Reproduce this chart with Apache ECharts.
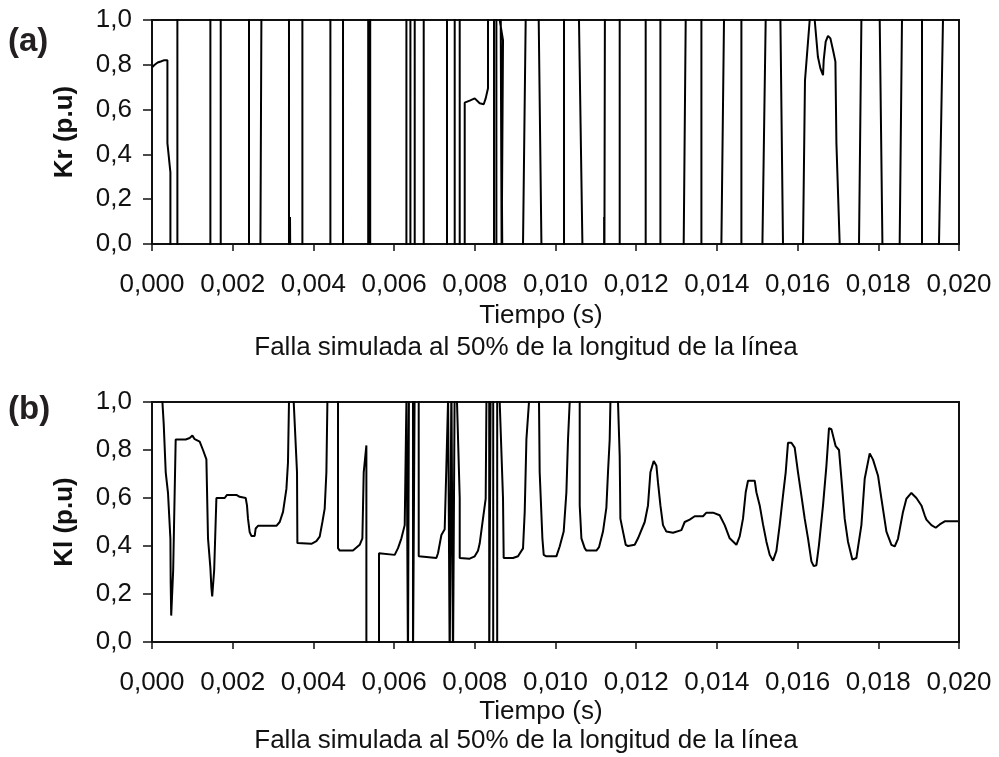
<!DOCTYPE html>
<html>
<head>
  <meta charset="UTF-8">
  <title>Kr / Kl</title>
  <script src="https://cdn.jsdelivr.net/npm/echarts@6/dist/echarts.min.js"></script>
  <style>
    html, body { margin: 0; padding: 0; background: #fff; }
  </style>
</head>
<body>
  <div id="main" style="width: 999px; height: 757px;"></div>

  <script>
    // (a) Kr, tiempo (s) / valor (p.u). Valores fuera de [0,1] se recortan en la rejilla
    const krData = [
      [0.000010, 0.79], [0.000067, 0.80], [0.000141, 0.81], [0.000216, 0.815], [0.000290, 0.82], [0.000382, 0.82],
      [0.000382, 0.45], [0.000456, 0.32], [0.000456, -0.1],
      [0.000629, -0.1], [0.000629, 1.1], [0.001447, 1.1], [0.001447, -0.1],
      [0.001703, -0.1], [0.001703, 1.1], [0.002404, 1.1], [0.002404, -0.1],
      [0.002687, -0.1], [0.002687, 0], [0.002711, 1], [0.002711, 1.1],
      [0.003395, 1.1], [0.003395, -0.1],
      [0.003420, -0.1], [0.003420, 0.12], [0.003428, 0.12], [0.003428, -0.1],
      [0.003727, -0.1], [0.003727, 1.1], [0.004421, 1.1], [0.004421, -0.1],
      [0.004734, -0.1], [0.004734, 1.1], [0.005358, 1.1], [0.005358, -0.1],
      [0.005408, -0.1], [0.005408, 1.1], [0.006305, 1.1], [0.006305, -0.1],
      [0.006404, -0.1], [0.006404, 1.1], [0.006511, 1.1], [0.006511, -0.1],
      [0.006734, -0.1], [0.006734, 1.1], [0.007311, 1.1], [0.007311, -0.1],
      [0.007502, -0.1], [0.007502, 1.1], [0.007626, 1.1], [0.007626, -0.1],
      [0.007750, -0.1], [0.007750, 0.631], [0.007874, 0.64], [0.007998, 0.65], [0.008121, 0.628],
      [0.008221, 0.624], [0.008270, 0.65], [0.008327, 0.695], [0.008327, 0.747], [0.008327, 1.1],
      [0.008476, 1.1], [0.008476, -0.1], [0.008535, -0.1], [0.008535, 1.1],
      [0.008617, 1.1], [0.008617, 1.0], [0.008699, 0.91], [0.008667, 0], [0.008667, -0.1],
      [0.008640, -0.1], [0.008640, 1.1], [0.008684, 1.1], [0.008684, -0.1],
      [0.009195, -0.1], [0.009195, 0], [0.009261, 1], [0.009261, 1.1],
      [0.009584, 1.1], [0.009584, 1], [0.009651, 0], [0.009651, -0.1],
      [0.010211, -0.1], [0.010211, 1.1],
      [0.010582, 1.1], [0.010582, 1], [0.010667, 0], [0.010667, -0.1],
      [0.011205, -0.1], [0.011205, 0.12], [0.011212, 0.12], [0.011212, -0.1],
      [0.011225, -0.1], [0.011225, 1.1], [0.011591, 1.1], [0.011591, -0.1],
      [0.012235, -0.1], [0.012235, 1.1], [0.012600, 1.1], [0.012600, -0.1],
      [0.013177, -0.1], [0.013177, 0], [0.013227, 1], [0.013227, 1.1],
      [0.013616, 1.1], [0.013616, -0.1],
      [0.014111, -0.1], [0.014111, 0], [0.014176, 1], [0.014176, 1.1],
      [0.014607, 1.1], [0.014607, -0.1],
      [0.015128, -0.1], [0.015128, 0], [0.015209, 1], [0.015209, 1.1],
      [0.015574, 1.1], [0.015574, 1], [0.015638, 0], [0.015638, -0.1],
      [0.016134, -0.1], [0.016134, 0], [0.016183, 0.73], [0.016300, 1.0], [0.016300, 1.1],
      [0.016424, 1.1], [0.016424, 1.0], [0.016503, 0.836], [0.016565, 0.784], [0.016630, 0.754],
      [0.016647, 0.821], [0.016696, 0.903], [0.016753, 0.929], [0.016813, 0.918], [0.016877, 0.866],
      [0.016937, 0.814], [0.016962, 0.45], [0.017043, 0], [0.017043, -0.1],
      [0.017522, -0.1], [0.017522, 0], [0.017581, 1], [0.017581, 1.1],
      [0.018035, 1.1], [0.018035, 1], [0.018102, 0], [0.018102, -0.1],
      [0.018530, -0.1], [0.018530, 0], [0.018587, 1], [0.018587, 1.1],
      [0.019083, 1.1], [0.019083, -0.1],
      [0.019504, -0.1], [0.019504, 0], [0.019603, 1], [0.019603, 1.1],
      [0.019700, 1.1]
    ];

    // (b) Kl
    const klData = [
      [0.000240, 1.1], [0.000258, 1.0], [0.000290, 0.91], [0.000340, 0.707], [0.000397, 0.62], [0.000456, 0.43],
      [0.000463, 0.25], [0.000476, 0.11], [0.000501, 0.11], [0.000525, 0.30], [0.000587, 0.844], [0.000835, 0.844],
      [0.000934, 0.85], [0.001001, 0.86], [0.001058, 0.845], [0.001182, 0.835], [0.001264, 0.80], [0.001348, 0.761],
      [0.001388, 0.432], [0.001447, 0.309], [0.001472, 0.226], [0.001492, 0.19], [0.001517, 0.19], [0.001541, 0.30],
      [0.001596, 0.60], [0.001802, 0.60], [0.001859, 0.613], [0.002092, 0.613], [0.002173, 0.605], [0.002322, 0.60],
      [0.002354, 0.569], [0.002379, 0.514], [0.002421, 0.458], [0.002463, 0.442], [0.002545, 0.442], [0.002570, 0.473],
      [0.002627, 0.484], [0.003083, 0.484], [0.003165, 0.50], [0.003247, 0.542], [0.003331, 0.638], [0.003370, 0.748],
      [0.003395, 1.0], [0.003395, 1.1],
      [0.003512, 1.1], [0.003512, 1.0], [0.003594, 0.707], [0.003603, 0.412], [0.003618, 0.409], [0.003950, 0.409],
      [0.004074, 0.42], [0.004156, 0.439], [0.004223, 0.50], [0.004280, 0.556], [0.004322, 0.707], [0.004347, 1.0], [0.004347, 1.1],
      [0.004610, 1.1], [0.004610, 0.391], [0.004652, 0.381], [0.004981, 0.381], [0.005147, 0.405], [0.005214, 0.432],
      [0.005247, 0.707], [0.005313, 0.819], [0.005313, -0.1],
      [0.005626, -0.1], [0.005626, 0.37], [0.005650, 0.363], [0.006015, 0.363], [0.006097, 0.391], [0.006181, 0.432],
      [0.006263, 0.487], [0.006305, 1.0], [0.006305, 1.1],
      [0.006344, 1.1], [0.006344, -0.1], [0.006369, -0.1], [0.006369, 1.1], [0.006468, 1.1], [0.006468, -0.1],
      [0.006511, -0.1], [0.006511, 1.1],
      [0.006610, 1.1], [0.006610, 0.357], [0.006634, 0.35], [0.007048, 0.35], [0.007088, 0.37], [0.007172, 0.446],
      [0.007254, 0.47], [0.007296, 0.734], [0.007336, 1.0], [0.007336, 1.1],
      [0.007378, 1.1], [0.007378, -0.1], [0.007420, -0.1], [0.007420, 1.1], [0.007460, 1.1], [0.007460, -0.1],
      [0.007502, -0.1], [0.007502, 1.1],
      [0.007559, 1.1], [0.007559, 1.0], [0.007626, 0.6], [0.007626, 0.35], [0.007874, 0.347], [0.007916, 0.339],
      [0.007998, 0.357], [0.008079, 0.38], [0.008121, 0.41], [0.008203, 0.514], [0.008270, 0.597], [0.008288, 1.0], [0.008288, 1.1],
      [0.008357, 1.1], [0.008357, -0.1], [0.008394, -0.1], [0.008394, 1.1], [0.008456, 1.1], [0.008456, -0.1],
      [0.008555, -0.1], [0.008555, 1.1],
      [0.008617, 1.1], [0.008617, 1.0], [0.008699, 0.6], [0.008716, 0.35], [0.008947, 0.35], [0.009071, 0.357],
      [0.009195, 0.39], [0.009237, 0.542], [0.009279, 0.844], [0.009343, 1.0], [0.009343, 1.1],
      [0.009591, 1.1], [0.009591, 1.0], [0.009608, 0.707], [0.009675, 0.432], [0.009708, 0.363], [0.009774, 0.357],
      [0.010022, 0.357], [0.010104, 0.398], [0.010203, 0.46], [0.010270, 0.624], [0.010310, 0.844], [0.010352, 1.0], [0.010352, 1.1],
      [0.010600, 1.1], [0.010600, 0.569], [0.010642, 0.432], [0.010724, 0.391], [0.010766, 0.381], [0.011014, 0.381],
      [0.011078, 0.395], [0.011177, 0.46], [0.011261, 0.56], [0.011301, 0.707], [0.011343, 0.844], [0.011361, 1.0], [0.011361, 1.1],
      [0.011549, 1.1], [0.011549, 1.0], [0.011591, 0.775], [0.011608, 0.514], [0.011673, 0.46], [0.011740, 0.405],
      [0.011797, 0.40], [0.011963, 0.405], [0.012045, 0.432], [0.012211, 0.50], [0.012292, 0.569], [0.012352, 0.707],
      [0.012434, 0.754], [0.012501, 0.734], [0.012540, 0.665], [0.012600, 0.569], [0.012664, 0.487], [0.012748, 0.46],
      [0.012912, 0.455], [0.013120, 0.466], [0.013202, 0.50], [0.013326, 0.51], [0.013450, 0.524], [0.013656, 0.524],
      [0.013740, 0.539], [0.013903, 0.539], [0.014069, 0.528], [0.014193, 0.487], [0.014317, 0.432], [0.014483, 0.405],
      [0.014565, 0.44], [0.014647, 0.514], [0.014714, 0.624], [0.014771, 0.672], [0.014937, 0.672], [0.014979, 0.624],
      [0.015061, 0.569], [0.015143, 0.49], [0.015227, 0.418], [0.015309, 0.363], [0.015390, 0.339], [0.015475, 0.38],
      [0.015556, 0.487], [0.015638, 0.61], [0.015705, 0.707], [0.015762, 0.83], [0.015846, 0.83], [0.015928, 0.81],
      [0.016010, 0.707], [0.016094, 0.61], [0.016176, 0.514], [0.016258, 0.432], [0.016342, 0.336], [0.016399, 0.316],
      [0.016466, 0.32], [0.016530, 0.405], [0.016630, 0.569], [0.016714, 0.734], [0.016778, 0.891], [0.016838, 0.887],
      [0.016944, 0.816], [0.017026, 0.80], [0.017086, 0.68], [0.017167, 0.514], [0.017249, 0.418], [0.017358, 0.343],
      [0.017457, 0.35], [0.017581, 0.487], [0.017663, 0.68], [0.017787, 0.786], [0.017869, 0.76], [0.017993, 0.693],
      [0.018077, 0.597], [0.018201, 0.46], [0.018325, 0.405], [0.018406, 0.398], [0.018488, 0.43], [0.018612, 0.542],
      [0.018696, 0.597], [0.018820, 0.621], [0.018944, 0.60], [0.019068, 0.569], [0.019150, 0.528], [0.019192, 0.51],
      [0.019316, 0.487], [0.019423, 0.476], [0.019522, 0.49], [0.019646, 0.503], [0.019975, 0.503]
    ];

    const panelLabels = ['(a)', '(b)'];
    const yNames = ['Kr (p.u)', 'Kl (p.u)'];
    const xName = 'Tiempo (s)';
    const caption = 'Falla simulada al 50% de la longitud de la línea';

    const FONT = '"Liberation Sans", Arial, Helvetica, sans-serif';
    const INK = '#111';
    const grids = [
      { left: 152, top: 20, width: 807, height: 224 },
      { left: 152, top: 402, width: 807, height: 240 }
    ];
    // vertical offsets of axis title and caption below each plot
    const textOffsets = [[72, 104], [70, 99]];

    const comma = (v, d) => v.toFixed(d).replace('.', ',');

    const xAxes = grids.map((g, i) => ({
      gridIndex: i,
      type: 'value',
      min: 0,
      max: 0.02,
      interval: 0.002,
      axisLine: { lineStyle: { color: INK, width: 2 } },
      axisTick: { inside: false, length: 7, lineStyle: { color: INK, width: 1.5 } },
      axisLabel: {
        margin: 28,
        color: INK,
        fontFamily: FONT,
        fontSize: 26,
        formatter: v => comma(v, 3)
      },
      splitLine: { show: false }
    }));

    const yAxes = grids.map((g, i) => ({
      gridIndex: i,
      type: 'value',
      min: 0,
      max: 1,
      interval: 0.2,
      name: yNames[i],
      nameLocation: 'middle',
      nameGap: 74,
      nameTextStyle: { fontFamily: FONT, fontSize: 26, fontWeight: 'bold', color: INK },
      axisLine: { lineStyle: { color: INK, width: 2 } },
      axisTick: { inside: false, length: 9, lineStyle: { color: INK, width: 1.5 } },
      axisLabel: {
        margin: 20,
        color: INK,
        fontFamily: FONT,
        fontSize: 26,
        formatter: v => comma(v, 1)
      },
      splitLine: { show: false }
    }));

    const texts = [];
    grids.forEach((g, i) => {
      const base = g.top + g.height;
      texts.push({
        type: 'text',
        style: { text: panelLabels[i], x: 8, y: g.top + (i === 0 ? 22 : 8), font: 'bold 33px ' + FONT, fill: '#231f20', textVerticalAlign: 'middle' }
      });
      texts.push({
        type: 'text',
        style: { text: xName, x: 541, y: base + textOffsets[i][0], font: '26px ' + FONT, fill: INK, textAlign: 'center', textVerticalAlign: 'middle' }
      });
      texts.push({
        type: 'text',
        style: { text: caption, x: 526, y: base + textOffsets[i][1], font: '26px ' + FONT, fill: INK, textAlign: 'center', textVerticalAlign: 'middle' }
      });
    });

    const option = {
      animation: false,
      backgroundColor: '#fff',
      grid: grids.map(g => Object.assign({ show: true, borderColor: INK, borderWidth: 2, backgroundColor: 'transparent' }, g)),
      xAxis: xAxes,
      yAxis: yAxes,
      graphic: texts,
      series: [
        { name: 'Kr', type: 'line', xAxisIndex: 0, yAxisIndex: 0, data: krData, showSymbol: false, clip: true,
          lineStyle: { color: '#000', width: 2 } },
        { name: 'Kl', type: 'line', xAxisIndex: 1, yAxisIndex: 1, data: klData, showSymbol: false, clip: true,
          lineStyle: { color: '#000', width: 2 } }
      ]
    };

    const chart = echarts.init(document.getElementById('main'));
    chart.setOption(option);
  </script>
</body>
</html>
